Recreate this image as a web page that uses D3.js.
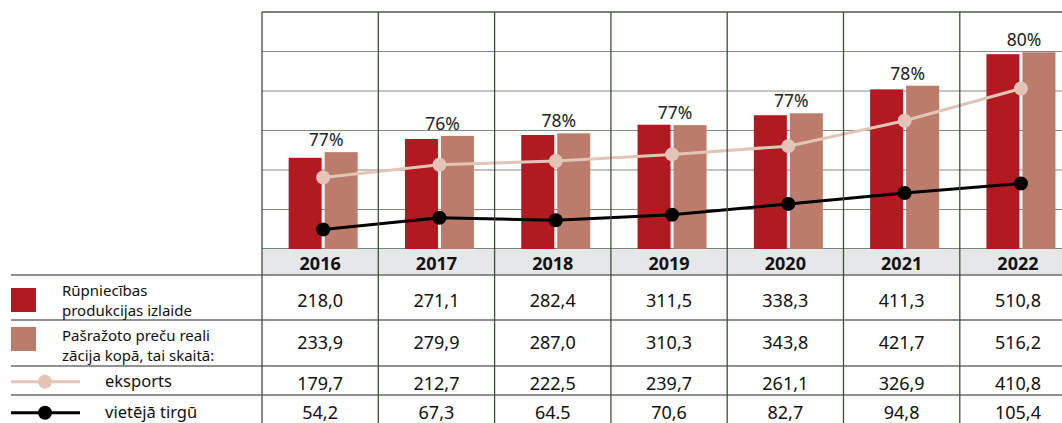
<!DOCTYPE html>
<html>
<head>
<meta charset="utf-8">
<script src="https://cdn.jsdelivr.net/npm/d3@7"></script>
<style>
  body { margin: 0; background: #fff; }
  svg { display: block; font-family: "Noto Sans", sans-serif; }
</style>
</head>
<body>
<svg id="chart" width="1062" height="423"></svg>
<script>
const YEARS = ["2016", "2017", "2018", "2019", "2020", "2021", "2022"];
const OUTPUT = [218.0, 271.1, 282.4, 311.5, 338.3, 411.3, 510.8];
const SALES = [233.9, 279.9, 287.0, 310.3, 343.8, 421.7, 516.2];
const EXPORT = [179.7, 212.7, 222.5, 239.7, 261.1, 326.9, 410.8];
const DOMESTIC = [54.2, 67.3, 64.5, 70.6, 82.7, 94.8, 105.4];
const SHARE = ["77%", "76%", "78%", "77%", "77%", "78%", "80%"];

const RED = "#b11a21", PINK = "#bb7c6b", LIGHT = "#e3c5b8";
const GRID = "#4a5e48", LINE = "#6d6d6d";

const fmt = v => v.toFixed(1).replace(".", ",");
// the source prints this one with a dot
const DOT_CELLS = { "3-2": true };

const svg = d3.select("#chart");

const plotTop = 12, plotBottom = 249, headBottom = 275;
const x = d3.scaleBand().domain(YEARS).range([262, 262 + 7 * 116.3]);
const cx = d => x(d) + x.bandwidth() / 2 + 3;

// scales (fitted to the picture)
const yBar = d3.scaleLinear().domain([0, 510.8]).range([234.9, 54.2]);
const yExp = d3.scaleLinear().domain([179.7, 410.8]).range([177.5, 88.5]);
const yDom = d3.scaleLinear().domain([54.2, 105.4]).range([229.5, 183.5]);
const yGrid = d3.scaleLinear().domain([0, 6]).range([plotBottom, plotTop]);

// horizontal grid
svg.append("g").selectAll("line").data(d3.range(0, 6)).enter().append("line")
  .attr("x1", 262).attr("x2", 1062)
  .attr("y1", d => yGrid(d)).attr("y2", d => yGrid(d))
  .attr("stroke", d => d === 0 ? GRID : "#7d8c7b")
  .attr("stroke-width", d => d === 0 ? 1.5 : 1.2);
svg.append("line").attr("x1", 262).attr("x2", 1062)
  .attr("y1", plotTop).attr("y2", plotTop)
  .attr("stroke", GRID).attr("stroke-width", 1.5);

// header band
svg.append("rect").attr("x", 262).attr("y", plotBottom)
  .attr("width", 800).attr("height", headBottom - plotBottom)
  .attr("fill", "#e6e7e8");

// bars
const bars = svg.append("g");
bars.selectAll(".out").data(YEARS).enter().append("rect")
  .attr("x", d => cx(d) - 34.5).attr("width", 33)
  .attr("y", (d, i) => yBar(OUTPUT[i]))
  .attr("height", (d, i) => plotBottom - yBar(OUTPUT[i]))
  .attr("fill", RED);
bars.selectAll(".sal").data(YEARS).enter().append("rect")
  .attr("x", d => cx(d) + 1.5).attr("width", 33)
  .attr("y", (d, i) => yBar(SALES[i]))
  .attr("height", (d, i) => plotBottom - yBar(SALES[i]))
  .attr("fill", PINK);

// share labels
svg.append("g").selectAll("text").data(YEARS).enter().append("text")
  .attr("x", d => cx(d) + 3).attr("y", (d, i) => yBar(SALES[i]) - 6)
  .attr("text-anchor", "middle").attr("font-size", 17.5).attr("fill", "#222")
  .text((d, i) => SHARE[i]);

// lines
const drawLine = (vals, scale, color) => {
  const pts = YEARS.map((d, i) => [cx(d), scale(vals[i])]);
  svg.append("path").attr("d", d3.line()(pts))
    .attr("fill", "none").attr("stroke", color).attr("stroke-width", 3);
  svg.append("g").selectAll("circle").data(pts).enter().append("circle")
    .attr("cx", p => p[0]).attr("cy", p => p[1]).attr("r", 7).attr("fill", color);
};
drawLine(EXPORT, yExp, LIGHT);
drawLine(DOMESTIC, yDom, "#000");

// table rows
const rowLines = [headBottom, 320, 366, 395];
svg.append("g").selectAll("line").data(rowLines).enter().append("line")
  .attr("x1", 11).attr("x2", 1062)
  .attr("y1", d => d).attr("y2", d => d)
  .attr("stroke", LINE).attr("stroke-width", 1.6);

// vertical column lines
svg.append("g").selectAll("line").data(YEARS).enter().append("line")
  .attr("x1", d => x(d)).attr("x2", d => x(d))
  .attr("y1", plotTop).attr("y2", 423)
  .attr("stroke", "#3f4f3d").attr("stroke-width", 1.3);

// year header
svg.append("g").selectAll("text").data(YEARS).enter().append("text")
  .attr("x", d => x(d) + x.bandwidth() / 2).attr("y", 263)
  .attr("dominant-baseline", "central").attr("text-anchor", "middle")
  .attr("font-size", 18).attr("font-weight", "bold").attr("fill", "#111")
  .text(d => d);

// values
const rows = [OUTPUT, SALES, EXPORT, DOMESTIC];
const rowMid = [300, 342, 382.5, 412];
rows.forEach((vals, r) => {
  svg.append("g").selectAll("text").data(YEARS).enter().append("text")
    .attr("x", d => x(d) + x.bandwidth() / 2).attr("y", rowMid[r])
    .attr("dominant-baseline", "central").attr("text-anchor", "middle")
    .attr("font-size", 18).attr("fill", "#111")
    .text((d, i) => {
      const s = fmt(vals[i]);
      return DOT_CELLS[r + "-" + i] ? s.replace(",", ".") : s;
    });
});

// legend
svg.append("rect").attr("x", 11).attr("y", 288).attr("width", 25).attr("height", 24).attr("fill", RED);
svg.append("rect").attr("x", 11).attr("y", 327).attr("width", 25).attr("height", 24).attr("fill", PINK);

const legendText = [
  [["Rūpniecības", "produkcijas izlaide"], 295.5],
  [["Pašražoto preču reali", "zācija kopā, tai skaitā:"], 340.5]
];
legendText.forEach(([lines, ly]) => {
  const t = svg.append("text").attr("x", 62).attr("y", ly)
    .attr("font-size", 15).attr("fill", "#111");
  lines.forEach((s, k) => {
    t.append("tspan").attr("x", 62).attr("dy", k === 0 ? 0 : 20).text(s);
  });
});

const legendLines = [["eksports", 381.7, LIGHT], ["vietējā tirgū", 412.7, "#000"]];
legendLines.forEach(([label, ly, color]) => {
  svg.append("line").attr("x1", 11).attr("x2", 80).attr("y1", ly).attr("y2", ly)
    .attr("stroke", color).attr("stroke-width", 3);
  svg.append("circle").attr("cx", 45).attr("cy", ly).attr("r", 7).attr("fill", color);
  svg.append("text").attr("x", 105).attr("y", ly + 5)
    .attr("font-size", 16.5).attr("fill", "#111").text(label);
});
</script>
</body>
</html>
